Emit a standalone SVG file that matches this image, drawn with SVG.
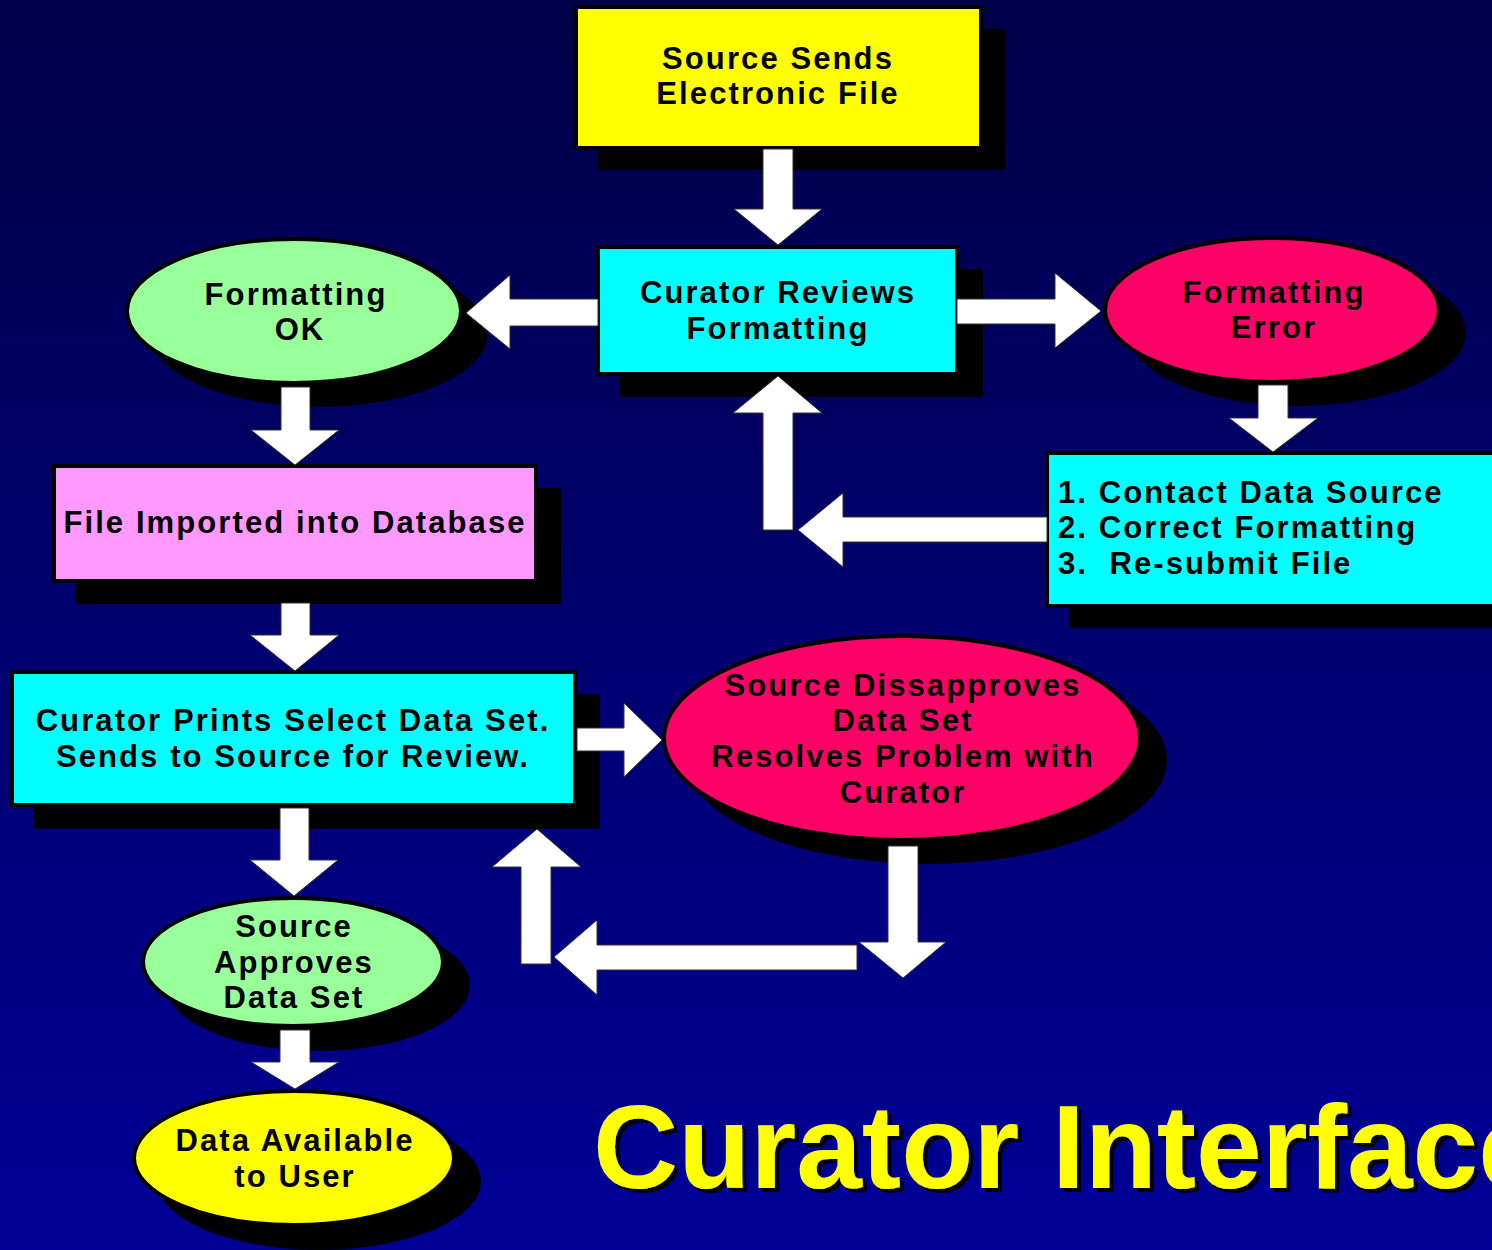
<svg xmlns="http://www.w3.org/2000/svg" width="1492" height="1250" viewBox="0 0 1492 1250">
<defs>
<linearGradient id="bg" x1="0" y1="0" x2="0" y2="1">
<stop offset="0" stop-color="#000048"/>
<stop offset="1" stop-color="#000096"/>
</linearGradient>
<filter id="tsh" x="-5%" y="-10%" width="115%" height="130%">
<feOffset in="SourceAlpha" dx="4" dy="4" result="o"/>
<feFlood flood-color="#000"/>
<feComposite in2="o" operator="in" result="s"/>
<feMerge><feMergeNode in="s"/><feMergeNode in="SourceGraphic"/></feMerge>
</filter>
<style>
.sh{fill:#000}
.nd{stroke:#000;stroke-width:4}
.t{font-family:"Liberation Sans",Arial,sans-serif;font-weight:bold;font-size:31px;letter-spacing:2.1px;fill:#000;text-anchor:middle}
.tl{text-anchor:start;white-space:pre}
.ar{fill:#fff;stroke:#333;stroke-width:1}
.title{font-family:"Liberation Sans",Arial,sans-serif;font-weight:bold;font-size:118px;fill:#ffff00}
</style>
</defs>
<rect width="1492" height="1250" fill="url(#bg)"/>

<g id="n1">
<rect class="sh" x="598" y="29" width="407" height="141" rx="3"/>
<rect class="nd" x="576" y="7" width="405" height="141" fill="#ffff00"/>
<text class="t" x="778" y="69">Source Sends</text>
<text class="t" x="778" y="104">Electronic File</text>
</g>

<g id="n2">
<rect class="sh" x="620" y="269" width="363" height="128" rx="3"/>
<rect class="nd" x="598" y="247" width="359" height="127" fill="#00ffff"/>
<text class="t" x="778" y="303">Curator Reviews</text>
<text class="t" x="778" y="339">Formatting</text>
</g>

<g id="n3">
<ellipse class="sh" cx="319" cy="333" rx="169" ry="74"/>
<ellipse class="nd" cx="294" cy="311" rx="167" ry="72" fill="#99ff99"/>
<text class="t" x="296" y="305">Formatting</text>
<text class="t" x="300" y="340">OK</text>
</g>

<g id="n4">
<ellipse class="sh" cx="1297" cy="332" rx="169" ry="74"/>
<ellipse class="nd" cx="1272" cy="310" rx="167" ry="72" fill="#ff0066"/>
<text class="t" x="1274" y="303">Formatting</text>
<text class="t" x="1274" y="338">Error</text>
</g>

<g id="n5">
<rect class="sh" x="1069" y="475" width="460" height="153" rx="3"/>
<rect class="nd" x="1047" y="453" width="460" height="153" fill="#00ffff"/>
<text class="t tl" x="1058" y="503">1. Contact Data Source</text>
<text class="t tl" x="1058" y="538">2. Correct Formatting</text>
<text class="t tl" x="1058" y="574">3.  Re-submit File</text>
</g>

<g id="n6">
<rect class="sh" x="76" y="488" width="485" height="116" rx="3"/>
<rect class="nd" x="54" y="466" width="482" height="115" fill="#ff99ff"/>
<text class="t" x="295" y="533">File Imported into Database</text>
</g>

<g id="n7">
<rect class="sh" x="34" y="694" width="566" height="135" rx="3"/>
<rect class="nd" x="12" y="672" width="563" height="133" fill="#00ffff"/>
<text class="t" x="293" y="731">Curator Prints Select Data Set.</text>
<text class="t" x="293" y="767">Sends to Source for Review.</text>
</g>

<g id="n8">
<ellipse class="sh" cx="927" cy="760" rx="240" ry="104"/>
<ellipse class="nd" cx="902" cy="738" rx="238" ry="102" fill="#ff0066"/>
<text class="t" x="903" y="696">Source Dissapproves</text>
<text class="t" x="903" y="731">Data Set</text>
<text class="t" x="903" y="767">Resolves Problem with</text>
<text class="t" x="903" y="803">Curator</text>
</g>

<g id="n9">
<ellipse class="sh" cx="318" cy="985" rx="152" ry="66"/>
<ellipse class="nd" cx="293" cy="962" rx="150" ry="64" fill="#99ff99"/>
<text class="t" x="294" y="937">Source</text>
<text class="t" x="294" y="973">Approves</text>
<text class="t" x="294" y="1008">Data Set</text>
</g>

<g id="n10">
<ellipse class="sh" cx="319" cy="1181" rx="162" ry="69"/>
<ellipse class="nd" cx="294" cy="1158" rx="160" ry="67" fill="#ffff00"/>
<text class="t" x="295" y="1151">Data Available</text>
<text class="t" x="295" y="1187">to User</text>
</g>

<g id="connectors">
<polygon class="ar" points="763,149 793,149 793,209 822,209 778,245 734,209 763,209"/>
<polygon class="ar" points="598,299 510,299 510,275 466,313 510,349 510,326 598,326"/>
<polygon class="ar" points="957,299 1055,299 1055,273 1101,311 1055,348 1055,324 957,324"/>
<polygon class="ar" points="1258,385 1288,385 1288,418 1318,418 1273,452 1229,418 1258,418"/>
<polygon class="ar" points="1047,517 843,517 843,493 798,530 843,567 843,542 1047,542"/>
<polygon class="ar" points="763,530 793,530 793,413 822,413 778,376 733,413 763,413"/>
<polygon class="ar" points="281,387 310,387 310,430 339,430 295,465 251,430 281,430"/>
<polygon class="ar" points="281,603 310,603 310,635 339,635 295,671 250,635 281,635"/>
<polygon class="ar" points="577,728 624,728 624,703 662,740 624,777 624,751 577,751"/>
<polygon class="ar" points="888,846 918,846 918,942 946,942 903,978 859,942 888,942"/>
<polygon class="ar" points="857,945 597,945 597,920 554,957 597,995 597,970 857,970"/>
<polygon class="ar" points="521,964 551,964 551,867 581,867 537,829 492,867 521,867"/>
<polygon class="ar" points="280,808 309,808 309,860 338,860 294,896 250,860 280,860"/>
<polygon class="ar" points="280,1030 310,1030 310,1062 339,1062 295,1089 251,1062 280,1062"/>
</g>

<g id="title">
<text class="title" x="593" y="1188" filter="url(#tsh)">Curator Interface</text>
</g>
</svg>
